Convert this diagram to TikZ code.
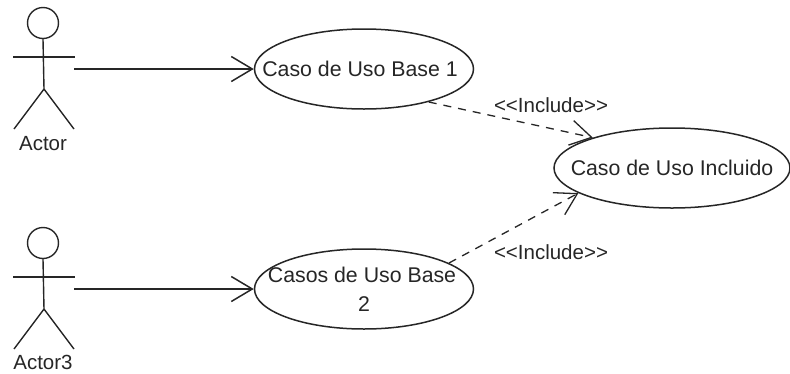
\documentclass[tikz,border=0pt]{standalone}
\usepackage{fontspec}
\setmainfont{Liberation Sans}
\usetikzlibrary{arrows.meta,shapes.geometric}
\newcommand{\uctext}[1]{\makebox[0pt]{#1}}
\begin{document}
\begin{tikzpicture}[
    x=1pt,y=-1pt,
    uc/.style={ellipse,draw=black!85,line width=1.5pt,fill=white,inner sep=0pt,align=center,text=black!85,font=\fontsize{21.3pt}{29pt}\selectfont},
    lbl/.style={font=\fontsize{20.5pt}{24pt}\selectfont,text=black!85,inner sep=0pt},
    assoc/.style={-{Straight Barb[length=21pt,width=25pt]},line width=1.5pt,draw=black!85},
    dep/.style={-{Straight Barb[length=21pt,width=25pt]},line width=1.3pt,draw=black!85,dash pattern=on 8pt off 7pt},
    limb/.style={draw=black!85,line width=1.4pt},
]
    \useasboundingbox (0,0) rectangle (790,373);
    % actors
    \foreach \nm/\yy/\ly/\txt in {a1/0/144/Actor,a2/220/362/Actor3}{
        \node[circle,draw=black!85,line width=1.4pt,minimum size=31pt,inner sep=0pt] (\nm head) at (43,{23+\yy}) {};
        \coordinate (\nm hip) at (44,{89+\yy});
        \coordinate (\nm armL) at (13,{57+\yy});
        \coordinate (\nm armR) at (75,{57+\yy});
        \coordinate (\nm footL) at (14,{129+\yy});
        \coordinate (\nm footR) at (74,{129+\yy});
        \coordinate (\nm out) at (74,{69+\yy});
        \draw[limb] (\nm head.south) -- (\nm hip);
        \draw[limb] (\nm armL) -- (\nm armR);
        \draw[limb] (\nm hip) -- (\nm footL);
        \draw[limb] (\nm hip) -- (\nm footR);
        \node[lbl] (\nm label) at (43,\ly) {\txt};
    }
    % use cases
    \node[uc,minimum width=219pt,minimum height=80pt] (base1) at (364,69) {\uctext{Caso de Uso Base 1\hspace*{8pt}}};
    \node[uc,minimum width=219pt,minimum height=80pt] (base2) at (364,289) {\uctext{Casos de Uso Base\hspace*{4pt}}\\\uctext{2}};
    \node[uc,minimum width=236pt,minimum height=80pt] (incl) at (672,168) {\uctext{Caso de Uso Incluido}};
    % connectors
    \draw[assoc] (a1out) -- (base1.west);
    \draw[assoc] (a2out) -- (base2.west);
    \draw[dep] (base1.-27) -- (incl.159);
    \draw[dep] (base2.17) -- (incl.195);
    \node[lbl] (inc1) at (551,105) {<{}<Include>{}>};
    \node[lbl] (inc2) at (551,252) {<{}<Include>{}>};
\end{tikzpicture}
\end{document}
